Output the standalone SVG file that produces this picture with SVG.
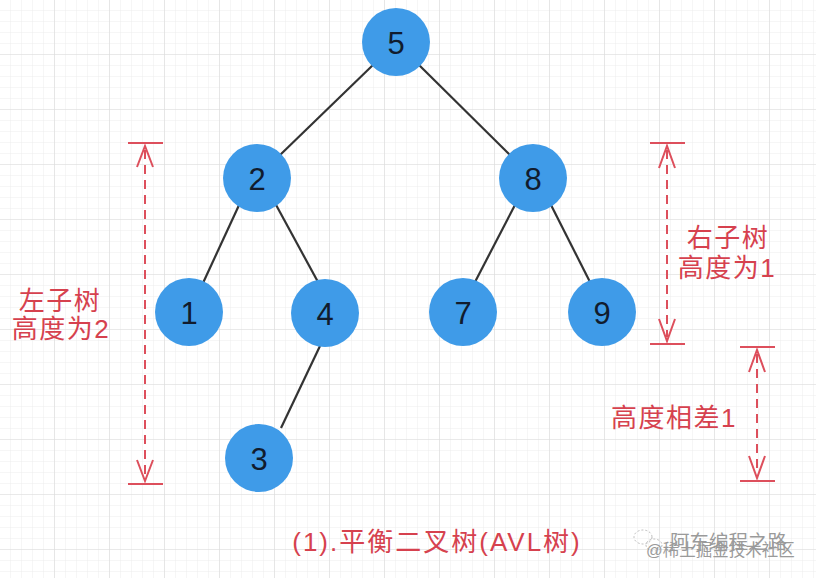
<svg xmlns="http://www.w3.org/2000/svg" width="816" height="578" viewBox="0 0 816 578">
<style>
.node circle{fill:#3f9be8;}
.node text{font-family:"Liberation Sans",Arial,sans-serif;font-size:31px;fill:#111c2e;text-anchor:middle;dominant-baseline:central;}
.edge{stroke:#333;stroke-width:2.2;fill:none;}
.dim{stroke:#dd4f5c;stroke-width:2;fill:none;}
.dash{stroke:#dd4f5c;stroke-width:2;stroke-dasharray:9 6;fill:none;}
.lbl{font-family:"Liberation Sans","Noto Sans CJK SC",sans-serif;font-size:26px;fill:#d6414e;text-anchor:middle;letter-spacing:1.5px;}
.wm{font-family:"Liberation Sans","Noto Sans CJK SC",sans-serif;fill:#9a9a9a;}
</style>
<defs>
<pattern id="minor" width="11" height="11" patternUnits="userSpaceOnUse">
<path d="M11 0V11M0 11H11" stroke="#ececec" stroke-width="1"/>
</pattern>
<pattern id="major" width="55" height="55" patternUnits="userSpaceOnUse">
<path d="M55 0V55M0 55H55" stroke="#dcdcdc" stroke-width="1.2"/>
</pattern>
</defs>
<rect width="816" height="578" fill="#ffffff"/>
<rect width="816" height="578" fill="url(#minor)"/>
<rect width="816" height="578" fill="url(#major)"/>

<g id="connectors">
<line class="edge" x1="374" y1="64" x2="279" y2="156"/>
<line class="edge" x1="418" y1="64" x2="511" y2="156"/>
<line class="edge" x1="240" y1="203" x2="203" y2="283"/>
<line class="edge" x1="275" y1="203" x2="318" y2="282"/>
<line class="edge" x1="516" y1="203" x2="475" y2="282"/>
<line class="edge" x1="550" y1="203" x2="590" y2="282"/>
<line class="edge" x1="320" y1="346" x2="281" y2="428"/>
</g>

<g id="n5" class="node"><circle cx="396" cy="42" r="34"/><text x="396" y="43">5</text></g>
<g id="n2" class="node"><circle cx="257" cy="178" r="34"/><text x="257" y="179">2</text></g>
<g id="n8" class="node"><circle cx="533" cy="178" r="34"/><text x="533" y="179">8</text></g>
<g id="n1" class="node"><circle cx="189" cy="312" r="34"/><text x="189" y="313">1</text></g>
<g id="n4" class="node"><circle cx="325" cy="313" r="34"/><text x="325" y="314">4</text></g>
<g id="n7" class="node"><circle cx="463" cy="312" r="34"/><text x="463" y="313">7</text></g>
<g id="n9" class="node"><circle cx="602" cy="312" r="34"/><text x="602" y="313">9</text></g>
<g id="n3" class="node"><circle cx="259" cy="458" r="34"/><text x="259" y="459">3</text></g>

<g id="dim-left">
<line class="dim" x1="128" y1="143" x2="163" y2="143"/>
<line class="dim" x1="128" y1="484" x2="163" y2="484"/>
<line class="dash" x1="145" y1="150" x2="145" y2="477"/>
<path class="dim" d="M137 167L145 146L153 167M137 460L145 481L153 460"/>
<text class="lbl" x="60" y="310">左子树</text>
<text class="lbl" x="61" y="338">高度为2</text>
</g>

<g id="dim-right">
<line class="dim" x1="650" y1="143" x2="685" y2="143"/>
<line class="dim" x1="650" y1="344" x2="685" y2="344"/>
<line class="dash" x1="667" y1="150" x2="667" y2="337"/>
<path class="dim" d="M659 168L667 146L675 168M659 319L667 341L675 319"/>
<text class="lbl" x="728" y="247">右子树</text>
<text class="lbl" x="727" y="277">高度为1</text>
</g>

<g id="dim-diff">
<line class="dim" x1="740" y1="347" x2="775" y2="347"/>
<line class="dim" x1="740" y1="481" x2="775" y2="481"/>
<line class="dash" x1="757" y1="354" x2="757" y2="474"/>
<path class="dim" d="M749 372L757 350L765 372M749 456L757 478L765 456"/>
<text class="lbl" x="674" y="427">高度相差1</text>
</g>

<text class="lbl" x="437" y="551" style="letter-spacing:2px">(1).平衡二叉树(AVL树)</text>

<g id="watermark">
<ellipse cx="643" cy="537" rx="9" ry="7" fill="none" stroke="#bbb" stroke-width="1" stroke-dasharray="2 2"/>
<ellipse cx="654" cy="545" rx="8" ry="6" fill="none" stroke="#bbb" stroke-width="1" stroke-dasharray="2 2"/>
<text class="wm" x="670" y="549" font-size="19.5">阿东编程之路</text>
<text class="wm" x="646" y="556" font-size="16.5" fill="#ababab">@稀土掘金技术社区</text>
</g>
</svg>
